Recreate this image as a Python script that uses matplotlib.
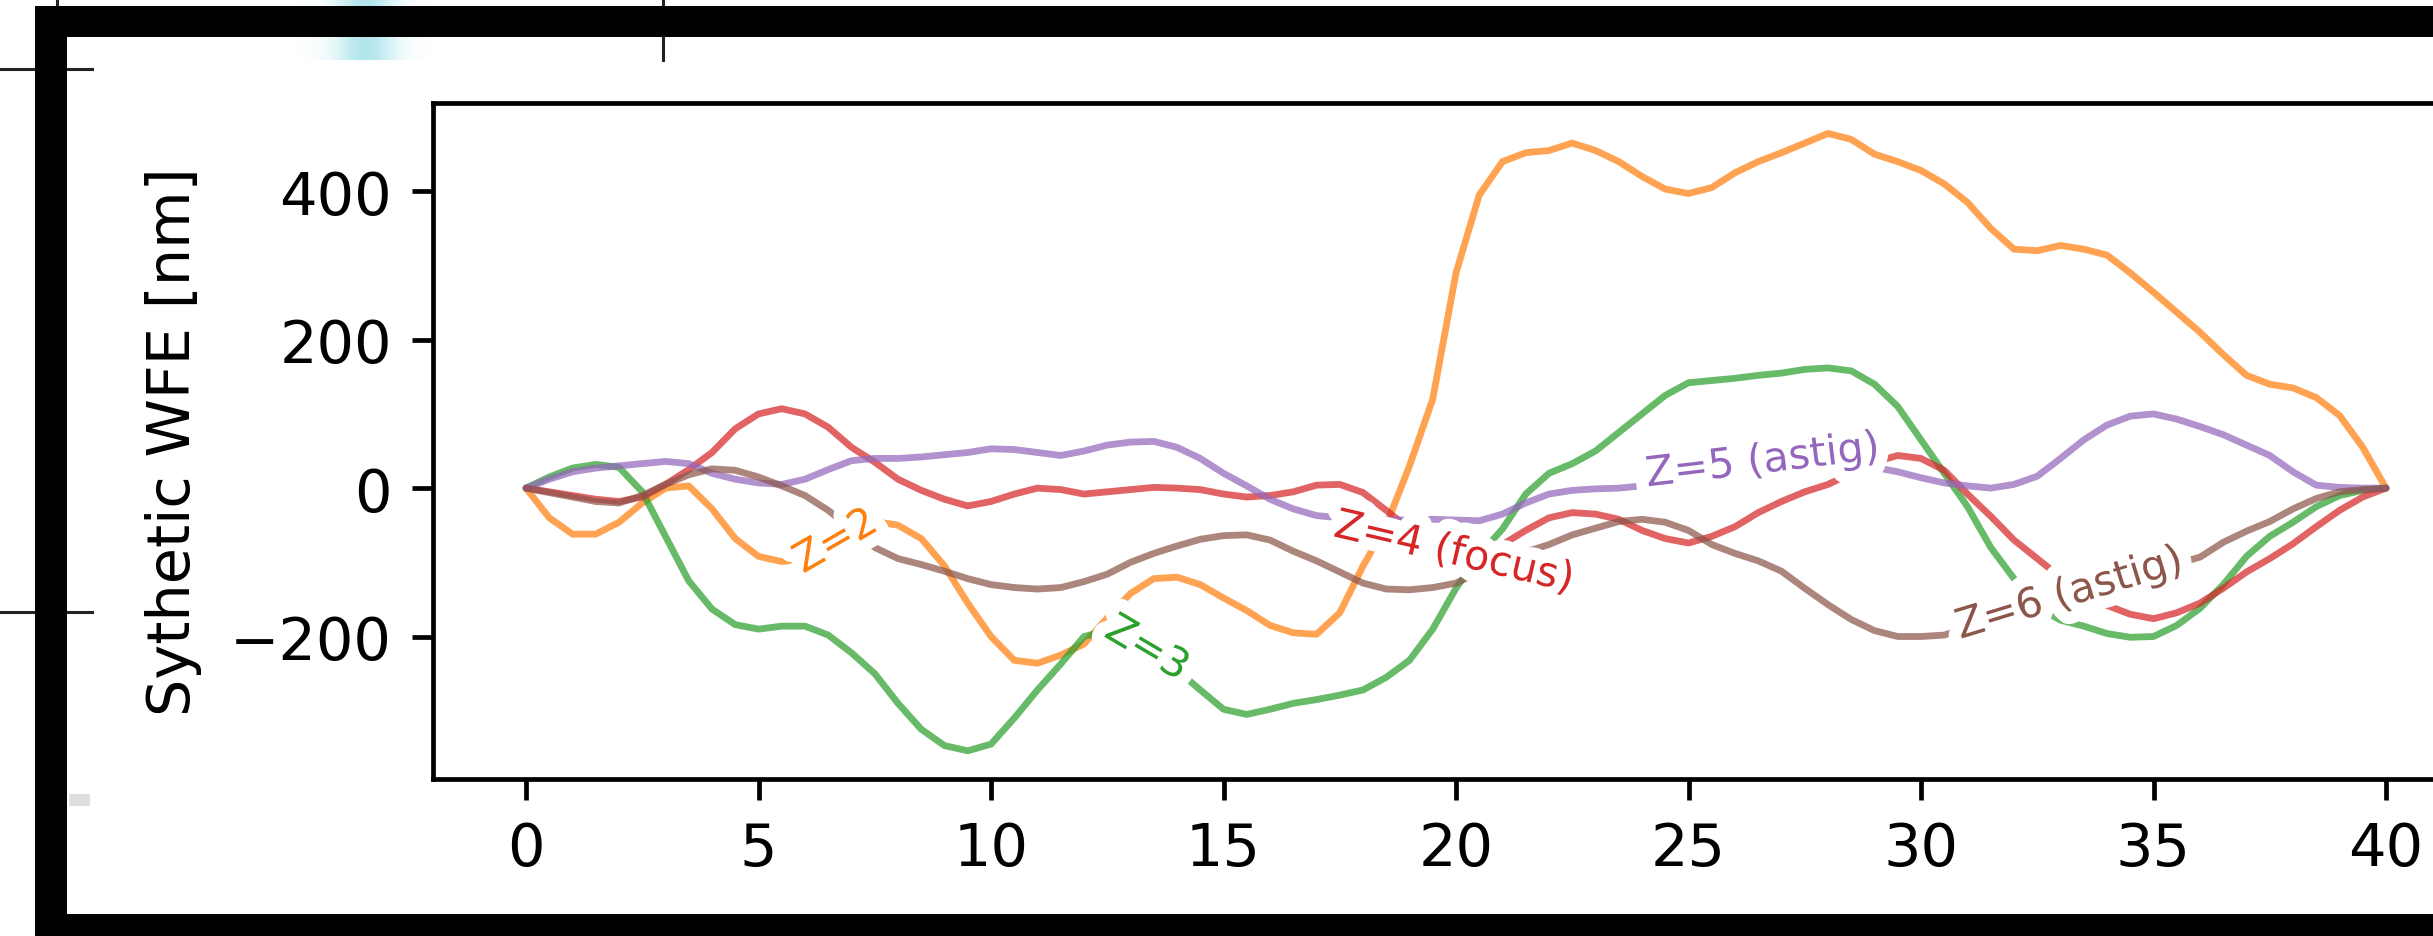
import numpy as np
import matplotlib
matplotlib.use("Agg")
import matplotlib.pyplot as plt
from matplotlib.patches import Rectangle
from matplotlib.lines import Line2D
import matplotlib.patheffects as pe

# ---- data: synthetic wavefront error per Zernike term, sampled every 0.5 ----
x = np.arange(0, 40.5, 0.5)

z2_tip = [0, -40, -62, -62, -46, -20, 0, 3, -28, -68,
          -92, -99, -95, -80, -58, -45, -50, -68, -105, -155,
          -200, -232, -236, -225, -210, -175, -142, -122, -120, -130,
          -148, -165, -185, -195, -197, -168, -105, -50, 30, 120,
          290, 395, 440, 452, 455, 465, 455, 440, 420, 403,
          397, 405, 425, 440, 452, 465, 478, 470, 450, 440,
          428, 410, 385, 350, 322, 320, 327, 322, 314, 290,
          264, 237, 210, 180, 152, 140, 135, 122, 98, 55, 0]

z3_tilt = [0, 15, 27, 32, 28, -5, -65, -125, -163, -184,
           -190, -186, -186, -198, -222, -250, -290, -325, -347, -354,
           -345, -310, -272, -237, -200, -192, -205, -222, -245, -272,
           -298, -305, -298, -290, -285, -279, -272, -255, -232, -190,
           -135, -90, -55, -8, 20, 33, 50, 75, 100, 125,
           142, 145, 148, 152, 155, 160, 162, 158, 140, 110,
           65, 20, -25, -80, -122, -160, -178, -186, -196, -201,
           -200, -185, -162, -130, -92, -65, -46, -25, -10, -3, 0]

z4_focus = [0, -5, -10, -15, -18, -12, 5, 25, 48, 80,
            100, 107, 100, 82, 55, 35, 12, -3, -15, -24,
            -18, -8, 0, -2, -8, -5, -2, 1, 0, -2,
            -8, -12, -10, -5, 4, 5, -6, -30, -55, -75,
            -89, -88, -76, -57, -40, -33, -35, -42, -57, -68,
            -74, -65, -52, -33, -18, -5, 5, 20, 35, 44,
            40, 24, -8, -38, -70, -95, -120, -140, -158, -170,
            -176, -168, -155, -135, -113, -95, -75, -52, -30, -12, 0]

z5_astig = [0, 12, 22, 27, 30, 33, 36, 33, 20, 12,
            7, 5, 12, 25, 37, 40, 40, 42, 45, 48,
            53, 52, 48, 44, 50, 58, 62, 63, 55, 40,
            20, 3, -15, -28, -37, -40, -42, -43, -43, -42,
            -43, -44, -35, -20, -8, -3, -1, 0, 3, 10,
            18, 25, 30, 35, 38, 40, 40, 35, 28, 22,
            14, 7, 3, 0, 5, 16, 40, 65, 85, 97,
            100, 93, 83, 72, 58, 44, 22, 4, 1, 0, 0]

z6_astig = [0, -6, -12, -18, -20, -10, 5, 18, 26, 24,
            15, 3, -10, -30, -55, -80, -95, -103, -112, -122,
            -130, -134, -136, -134, -126, -116, -100, -88, -78, -69,
            -64, -63, -70, -85, -98, -113, -128, -136, -137, -134,
            -128, -113, -100, -86, -76, -63, -54, -45, -42, -46,
            -57, -76, -88, -98, -112, -135, -157, -177, -192, -200,
            -200, -198, -188, -178, -166, -156, -147, -137, -128, -118,
            -110, -102, -93, -73, -58, -45, -28, -14, -5, -2, 0]

series = [z2_tip, z3_tilt, z4_focus, z5_astig, z6_astig]
labels = ["Z=2", "Z=3", "Z=4 (focus)", "Z=5 (astig)", "Z=6 (astig)"]
colors = ["tab:orange", "tab:green", "tab:red", "tab:purple", "tab:brown"]
label_x = [6.67, 13.35, 19.96, 26.6, 33.2]

xticks = [0, 5, 10, 15, 20, 25, 30, 35, 40]
yticks = [-200, 0, 200, 400]

# ---- figure geometry (pixels) ----
W, H = 2433, 937
fig = plt.figure(figsize=(W / 100, H / 100), dpi=100, facecolor="white")


def fx(px):
    return px / W


def fy(py):
    return 1 - py / H


def frame_rect(x0, y0, x1, y1, **kw):
    fig.add_artist(Rectangle((fx(x0), fy(y1)), (x1 - x0) / W, (y1 - y0) / H,
                             transform=fig.transFigure, **kw))


def frame_line(xs, ys, **kw):
    fig.add_artist(Line2D([fx(v) for v in xs], [fy(v) for v in ys],
                          transform=fig.transFigure, **kw))


# surrounding window content: a soft cyan glow and a few window edges
gw, gh, gx0 = 140, 61, 295
cols = np.arange(gw) + gx0
glow = np.zeros((gh, gw, 4))
glow[..., 0] = 0.62
glow[..., 1] = 0.88
glow[..., 2] = 0.91
glow[..., 3] = 0.8 * np.exp(-((cols - 365) / 30.0) ** 2)[None, :]
fig.figimage(glow, xo=gx0, yo=H - gh, origin="upper", zorder=-3)

frame_rect(69, 795, 90, 807, color="#d2d2d2", alpha=0.7, lw=0, zorder=-3)
frame_line([0, 92], [70, 70], color="#222222", lw=2.2, zorder=-2)
frame_line([0, 92], [613, 613], color="#222222", lw=2.2, zorder=-2)
frame_line([57, 57], [0, 8], color="#222222", lw=2.2, zorder=-2)
frame_line([663, 663], [0, 61], color="#222222", lw=2.2, zorder=-2)

# thick black bezel
frame_rect(35, 7, W, 38, color="black", lw=0, zorder=20)
frame_rect(35, 7, 67, H, color="black", lw=0, zorder=20)
frame_rect(35, 915, W, H, color="black", lw=0, zorder=20)

# ---- axes ----
S = 4.25
ax = fig.add_axes([fx(433), fy(780), (2479 - 433) / W, (780 - 104) / H])
ax.set_xlim(-2, 42)
ax.set_ylim(-392, 519)

for y, c in zip(series, colors):
    ax.plot(x, y, color=c, lw=1.15 * S, alpha=0.72,
            solid_capstyle="round", solid_joinstyle="round")

ax.set_xticks(xticks)
ax.set_yticks(yticks)
ax.tick_params(labelsize=10 * S, length=3.5 * S, width=0.8 * S, pad=3.5 * S)
for sp in ax.spines.values():
    sp.set_linewidth(0.8 * S)
ax.set_ylabel("Sythetic WFE [nm]", fontsize=10 * S)
ax.yaxis.set_label_coords(-0.113, 0.5)

# inline labels sitting on their curves
for y, lab, c, lx in zip(series, labels, colors, label_x):
    ly = np.interp(lx, x, y)
    p0 = ax.transData.transform((lx - 0.5, np.interp(lx - 0.5, x, y)))
    p1 = ax.transData.transform((lx + 0.5, np.interp(lx + 0.5, x, y)))
    ang = np.degrees(np.arctan2(p1[1] - p0[1], p1[0] - p0[0]))
    ax.text(lx, ly, lab, color=c, fontsize=7 * S, rotation=ang,
            rotation_mode="anchor", ha="center", va="center", zorder=5,
            path_effects=[pe.withStroke(linewidth=18, foreground="white")])

fig.savefig("out.png", dpi=100, facecolor="white")
